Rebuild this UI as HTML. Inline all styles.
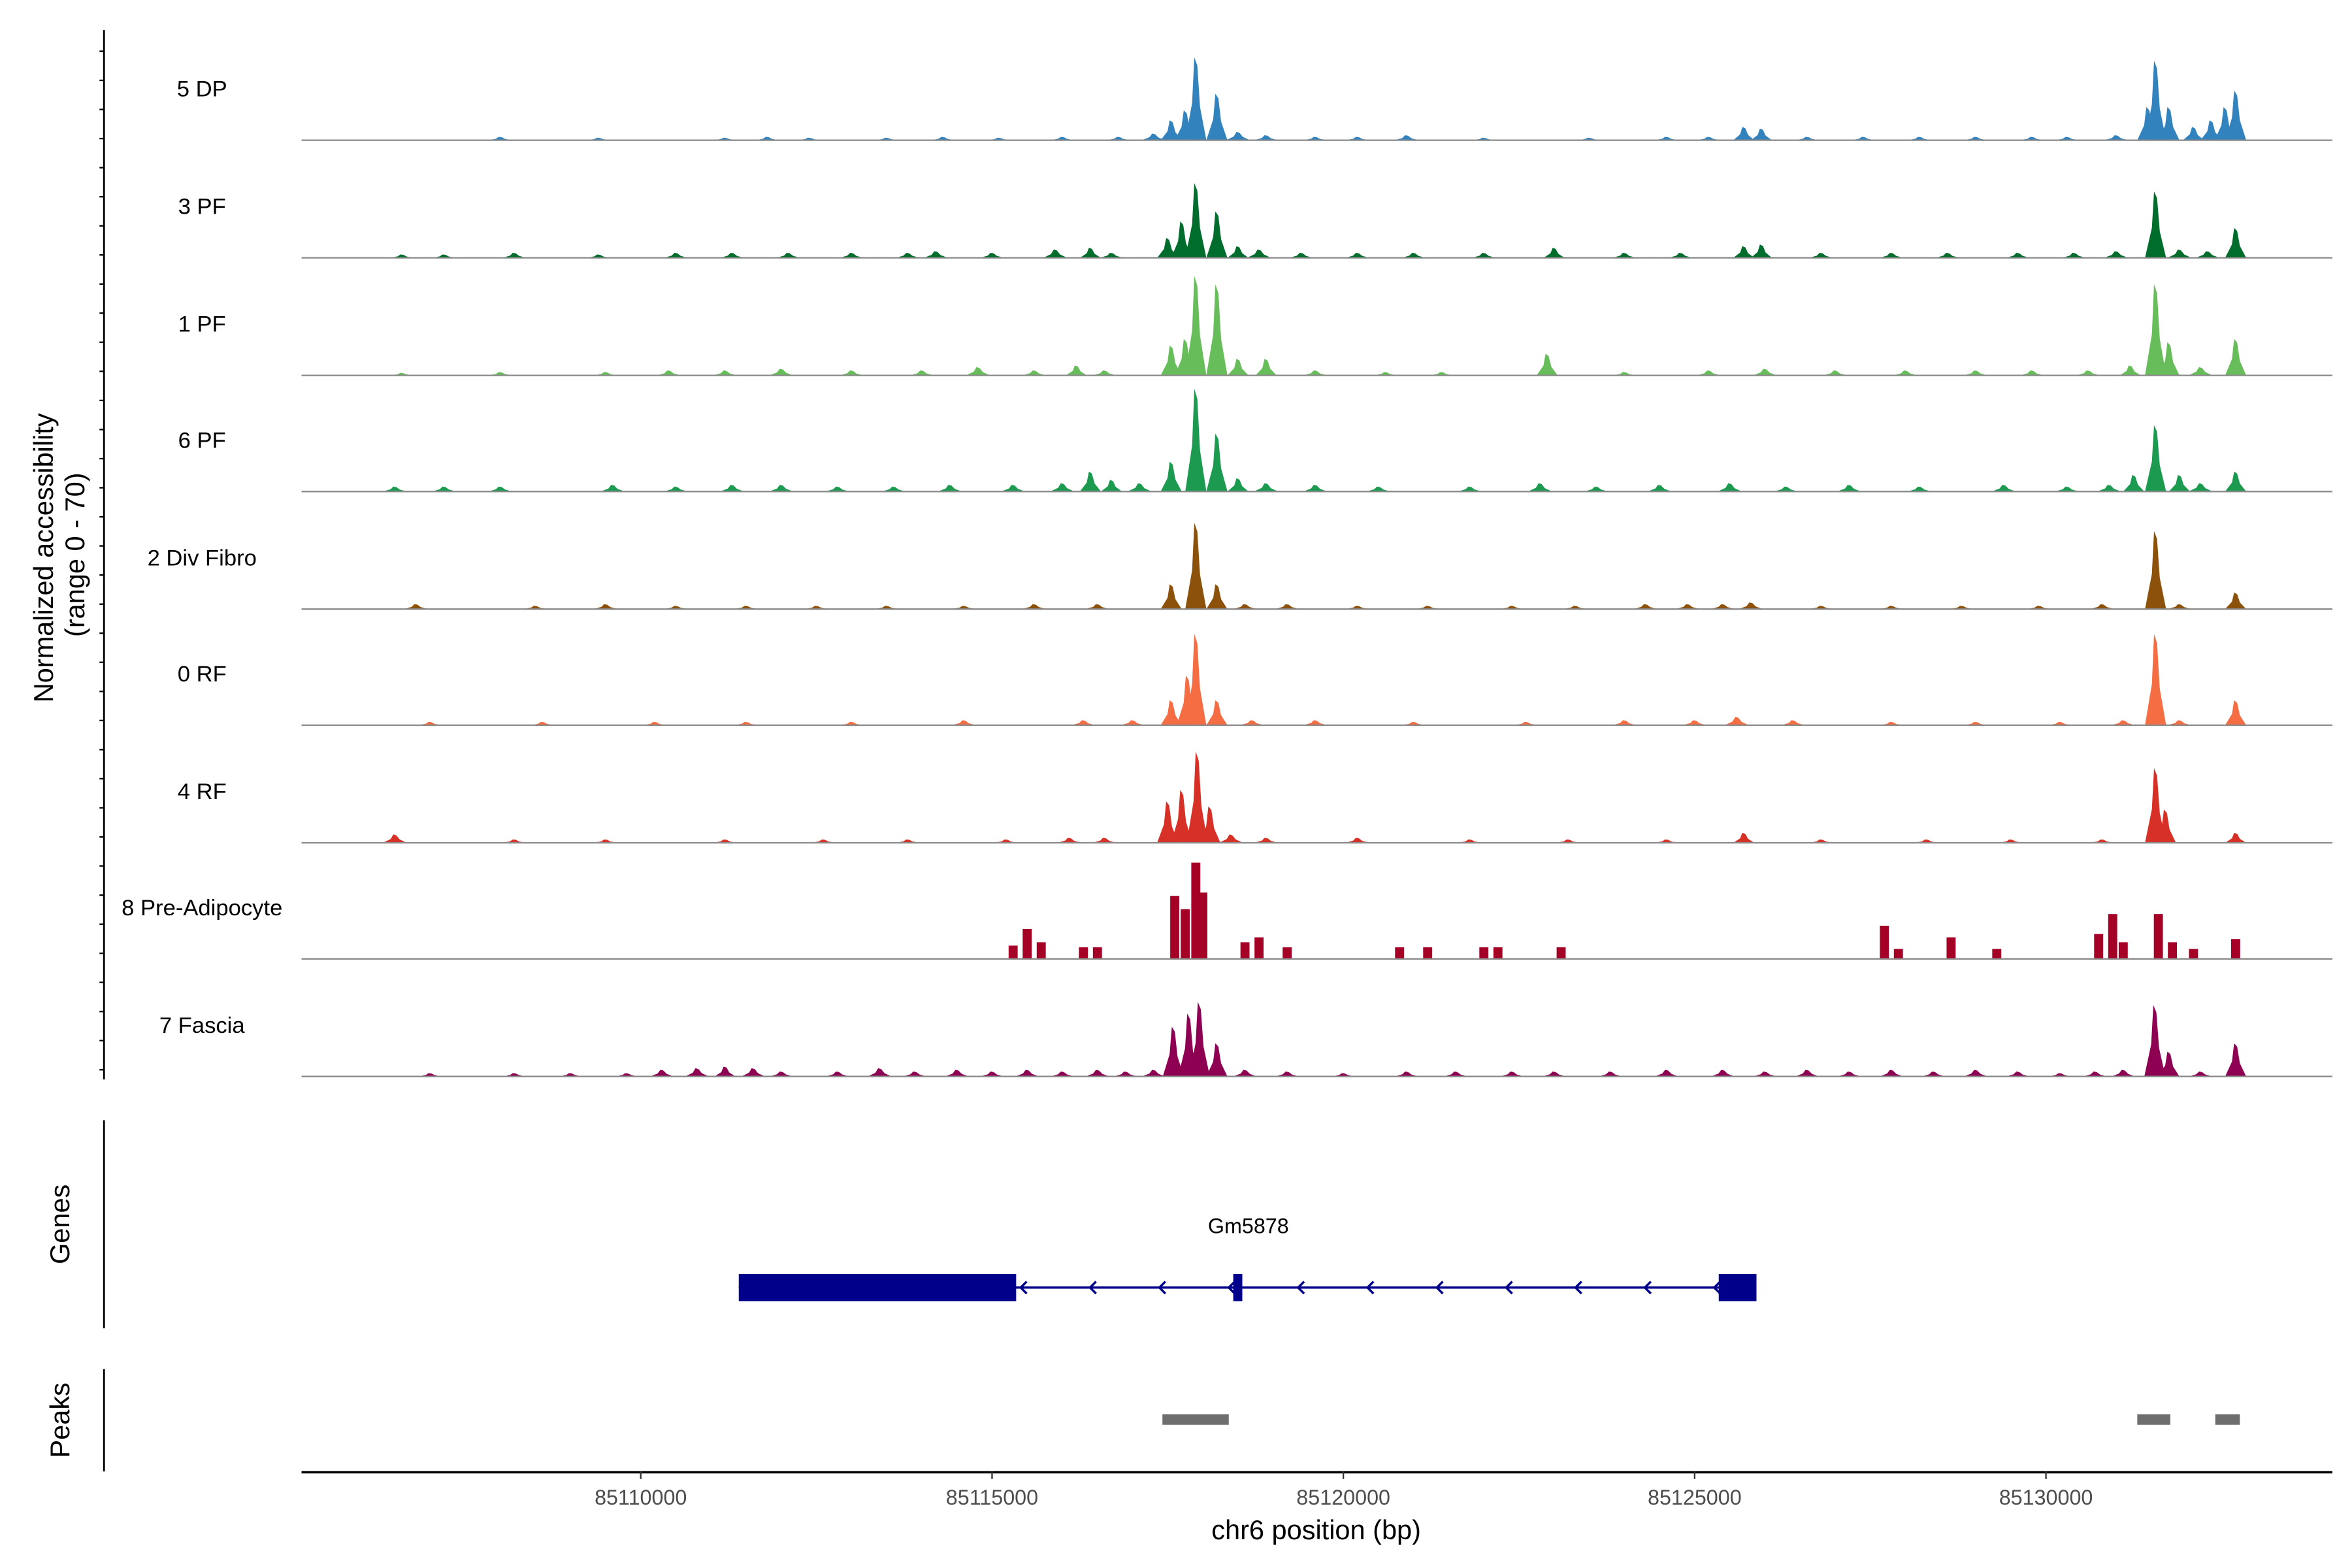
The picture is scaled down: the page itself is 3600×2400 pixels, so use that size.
<!DOCTYPE html>
<html><head><meta charset="utf-8"><style>
html,body{margin:0;padding:0;background:#fff}
svg{display:block}
text{font-family:"Liberation Sans",Arial,sans-serif;fill:#000}
</style></head><body>
<svg id="chart" width="3600" height="2400" viewBox="0 0 1560 1040" xmlns="http://www.w3.org/2000/svg">
<g id="tracks"></g>
<g id="axes"></g>
</svg>
<script>
// positions in kb offset from 85100000
const trackNames = ["5 DP","3 PF","1 PF","6 PF","2 Div Fibro","0 RF","4 RF","8 Pre-Adipocyte","7 Fascia"];
const trackColors = ["#3182bd","#006d2c","#66bd5a","#1b9a50","#8c510a","#f46d43","#d73027","#a50026","#8e0152"];
const peaksDP = [[8.0,2],[9.4,1.5],[11.2,1.5],[11.8,2],[12.4,1.5],[13.5,1.5],[14.3,2],[15.1,1.5],[16.0,2],[16.8,2],[17.3,4],[17.55,12],[17.75,18],[17.9,50],[18.2,28],[18.5,5],[18.9,3],[19.6,2],[20.2,2],[20.9,3],[22.0,1.5],[23.5,1.5],[24.6,2],[25.2,2],[25.7,8],[25.95,7],[26.6,2],[27.4,2],[28.2,2],[29.0,2],[29.8,2],[30.3,2],[31.0,3],[31.45,20],[31.56,48],[31.75,20],[32.1,8],[32.35,12],[32.55,20],[32.7,30]];
const peaks3PF = [[6.6,2],[7.2,2],[8.2,3],[9.4,2],[10.5,3],[11.3,3],[12.1,3],[13.0,3],[13.8,3],[14.2,4],[15.0,3],[15.9,5],[16.4,6],[16.7,3],[17.5,12],[17.7,22],[17.9,45],[18.2,28],[18.5,7],[18.8,5],[19.4,3],[20.2,3],[21.0,3],[22.0,3],[23.0,6],[24.0,3],[24.8,3],[25.7,7],[25.95,8],[26.8,3],[27.8,3],[28.6,3],[29.6,3],[30.4,3],[31.0,4],[31.56,40],[31.9,5],[32.3,4],[32.7,18]];
const peaks1PF = [[6.6,1.5],[8.0,2],[9.5,2],[10.4,3],[11.2,3],[12.0,4],[13.0,3],[14.0,3],[14.8,5],[15.6,3],[16.2,6],[16.6,3],[17.55,18],[17.75,22],[17.9,60],[18.2,55],[18.5,10],[18.9,10],[19.6,3],[20.6,2],[21.4,2],[22.9,13],[24.0,2],[25.2,3],[26.0,4],[27.0,3],[28.0,3],[29.0,3],[29.8,3],[30.6,3],[31.2,6],[31.56,55],[31.75,20],[32.2,5],[32.7,22]];
const peaks6PF = [[6.5,3],[7.2,3],[8.0,3],[9.6,4],[10.5,3],[11.3,4],[12.0,4],[12.8,3],[13.6,3],[14.4,4],[15.3,4],[16.0,5],[16.4,12],[16.7,7],[17.1,5],[17.55,18],[17.9,62],[18.2,35],[18.5,8],[18.9,5],[19.6,4],[20.5,3],[21.8,3],[22.8,5],[23.6,3],[24.5,4],[25.5,5],[26.3,3],[27.2,4],[28.2,3],[29.4,4],[30.3,3],[30.9,4],[31.25,10],[31.56,40],[31.9,10],[32.2,5],[32.7,12]];
const peaksDiv = [[6.8,3],[8.5,2],[9.5,3],[10.5,2],[11.5,2],[12.5,2],[13.5,2],[14.6,2],[15.6,3],[16.5,3],[17.55,15],[17.9,52],[18.2,15],[18.6,3],[19.2,3],[20.2,2],[21.2,2],[22.4,2],[23.3,2],[24.3,3],[24.9,3],[25.4,3],[25.8,4],[26.8,2],[27.8,2],[28.8,2],[29.9,2],[30.8,3],[31.56,47],[31.9,3],[32.7,10]];
const peaks0RF = [[7.0,2],[8.6,2],[10.2,2],[11.5,2],[13.0,2],[14.6,3],[16.3,3],[17.0,3],[17.55,15],[17.78,30],[17.9,55],[18.2,15],[18.7,3],[19.6,3],[21.0,2],[22.6,2],[24.0,3],[25.0,3],[25.6,5],[26.4,3],[27.8,2],[29.0,2],[30.2,2],[31.1,3],[31.56,55],[31.9,3],[32.7,15]];
const peaks4RF = [[6.5,5],[8.2,2],[9.5,2],[11.2,2],[12.6,2],[13.8,2],[15.2,2],[16.1,3],[16.6,3],[17.5,25],[17.7,32],[17.92,55],[18.1,22],[18.4,5],[18.9,3],[20.2,3],[21.8,2],[23.2,2],[24.6,2],[25.7,6],[26.8,2],[28.3,2],[29.5,2],[30.8,2],[31.56,45],[31.7,20],[32.7,6]];
const peaksPre = [[15.3,8],[15.5,18],[15.7,10],[16.3,7],[16.5,7],[17.6,38],[17.75,30],[17.9,58],[18.0,40],[18.6,10],[18.8,13],[19.2,7],[20.8,7],[21.2,7],[22.0,7],[22.2,7],[23.1,7],[27.7,20],[27.9,6],[28.65,13],[29.3,6],[30.75,15],[30.95,27],[31.1,10],[31.6,27],[31.8,10],[32.1,6],[32.7,12]];
const peaksFascia = [[7.0,2],[8.2,2],[9.0,2],[9.8,2],[10.3,4],[10.8,5],[11.2,6],[11.6,5],[12.0,3],[12.8,3],[13.4,5],[13.9,3],[14.5,4],[15.0,3],[15.5,4],[16.0,3],[16.5,4],[16.9,3],[17.3,4],[17.58,30],[17.8,38],[17.95,45],[18.2,20],[18.6,4],[19.2,3],[20.0,2],[20.9,3],[21.6,3],[22.4,3],[23.0,3],[23.8,3],[24.6,4],[25.4,4],[26.0,3],[26.6,4],[27.2,3],[27.8,4],[28.4,3],[29.0,4],[29.6,3],[30.2,2],[30.7,3],[31.1,4],[31.55,43],[31.75,15],[32.2,3],[32.7,20]];
const trackPeaks = [peaksDP,peaks3PF,peaks1PF,peaks6PF,peaksDiv,peaks0RF,peaks4RF,peaksPre,peaksFascia];
const geneExons = [[11.395,15.343],[18.433,18.562],[25.343,25.880]];
const geneSpan = [11.395,25.880];
const peakRegions = [[17.425,18.369],[31.30,31.77],[32.41,32.76]];
const xTicks = [85110000,85115000,85120000,85125000,85130000];

const NS="http://www.w3.org/2000/svg";
const X0=200,X1=1547,BP0=85105172,BP1=85134077;
function xs(bp){return X0+(bp-BP0)/(BP1-BP0)*(X1-X0);}
function xk(kb){return xs(85100000+kb*1000);}
const baselines=[93,171,249,326,404,481,559,636,714];
const yscale=1.1;
function mk(tag,attrs,parent){const e=document.createElementNS(NS,tag);for(const k in attrs)e.setAttribute(k,attrs[k]);parent.appendChild(e);return e;}
const tg=document.getElementById('tracks');
const ag=document.getElementById('axes');

trackPeaks.forEach((pk,i)=>{
  const b=baselines[i];
  const g=mk('g',{},tg);
  
  
  const lab=mk('text',{x:134,y:b-29,'text-anchor':'middle','font-size':15},g);
  lab.textContent=trackNames[i];
  
  
  pk.forEach(p=>{
    const cx=xk(p[0]),h=p[1]*yscale;
    let el;
    if(i===7){
      el=mk('rect',{x:cx-3,y:b-h,width:6,height:h,fill:trackColors[i]},g);
    }else{
      const w=h>15?7:(h>6?7:8);
      el=mk('path',{d:`M${cx-w} ${b} L${cx-w*0.35} ${b-h*0.45} L${cx-1} ${b-h} L${cx+1} ${b-h*0.9} L${cx+w*0.4} ${b-h*0.4} L${cx+w} ${b} Z`,fill:trackColors[i]},g);
    }
    
    
  });
  const bl=mk('line',{x1:X0,x2:X1,y1:b,y2:b,stroke:'#8a8a8a','stroke-width':1},g);
  
  
});

let e=mk('line',{x1:69,x2:69,y1:20,y2:716,stroke:'#000','stroke-width':1.2},ag);

for(let y=34;y<716;y+=19.3){const t=mk('line',{x1:66,x2:69,y1:y,y2:y,stroke:'#000','stroke-width':1},ag);}
e=mk('text',{x:0,y:0,'font-size':18,'text-anchor':'middle',transform:'translate(35,370) rotate(-90)'},ag);
e.textContent='Normalized accessibility';
e=mk('text',{x:0,y:0,'font-size':18,'text-anchor':'middle',transform:'translate(56,368) rotate(-90)'},ag);
e.textContent='(range 0 - 70)';

e=mk('line',{x1:69,x2:69,y1:743,y2:881,stroke:'#000','stroke-width':1.2},ag);

e=mk('text',{x:0,y:0,'font-size':18,'text-anchor':'middle',transform:'translate(46,812) rotate(-90)'},ag);
e.textContent='Genes';
const gg=mk('g',{},ag);
e=mk('line',{x1:xk(geneSpan[0]),x2:xk(geneSpan[1]),y1:854,y2:854,stroke:'#00008b','stroke-width':1.5},gg);

for(let x=xk(geneExons[0][1])+3;x<xk(geneExons[2][0]);x+=46){
  const a=mk('path',{d:`M${x+4} ${850} L${x} ${854} L${x+4} ${858}`,stroke:'#00008b','stroke-width':1.5,fill:'none'},gg);
  
}
geneExons.forEach(ex=>{const r=mk('rect',{x:xk(ex[0]),y:845,width:Math.max(xk(ex[1])-xk(ex[0]),5),height:18,fill:'#00008b'},gg);});
e=mk('text',{x:828,y:818,'font-size':14,'text-anchor':'middle'},gg);
e.textContent='Gm5878';

e=mk('line',{x1:69,x2:69,y1:908,y2:976,stroke:'#000','stroke-width':1.2},ag);

e=mk('text',{x:0,y:0,'font-size':18,'text-anchor':'middle',transform:'translate(46,942) rotate(-90)'},ag);
e.textContent='Peaks';
peakRegions.forEach(p=>{const r=mk('rect',{x:xk(p[0]),y:938,width:xk(p[1])-xk(p[0]),height:7,fill:'#6e6e6e'},ag);});

e=mk('line',{x1:X0,x2:X1,y1:976.5,y2:976.5,stroke:'#000','stroke-width':1.5},ag);

xTicks.forEach(t=>{
  const x=xs(t);
  const tk=mk('line',{x1:x,x2:x,y1:976,y2:981,stroke:'#333','stroke-width':1},ag);
  
  const tl=mk('text',{x:x,y:998,'font-size':14,'text-anchor':'middle',fill:'#4d4d4d'},ag);
  tl.textContent=t;tl.style.fill='#4d4d4d';
  
});
e=mk('text',{x:873,y:1021,'font-size':18,'text-anchor':'middle'},ag);
e.textContent='chr6 position (bp)';
</script>
</body></html>
